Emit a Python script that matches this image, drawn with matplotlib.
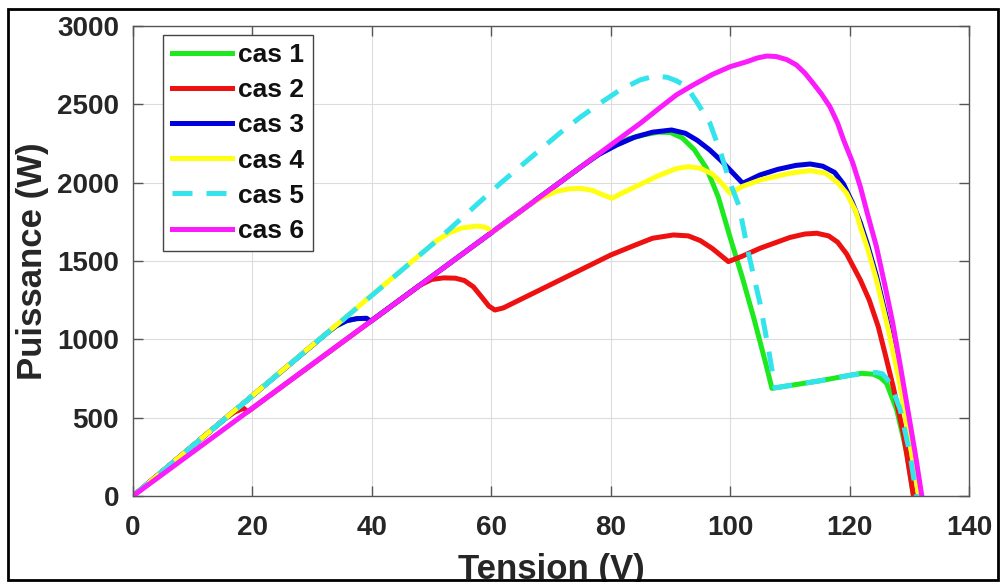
import matplotlib
matplotlib.use("Agg")
from matplotlib import pyplot as plt
from matplotlib.patches import Rectangle

plt.rcParams['font.family'] = ['Liberation Sans', 'DejaVu Sans']
plt.rcParams['font.weight'] = 'bold'

# cas 1 (vert)
v1 = [0, 32.4, 34, 35.8, 37.5, 39.1, 39.8, 60, 77, 80, 83, 85.5, 88, 90, 92, 94, 96, 98, 100, 102, 104, 106, 107,
      110, 115, 120, 122, 124, 125.2, 126.2, 127.9, 129.6, 130.7]
p1 = [0, 1037, 1085, 1119, 1132, 1134, 1115, 1680, 2156, 2230, 2280, 2305, 2322, 2320, 2285, 2210, 2095, 1910, 1650,
      1400, 1130, 840, 687, 705, 735, 770, 783, 777, 755, 719, 549, 272, 0]

# cas 2 (rouge)
v2 = [0, 15.4, 17, 18.5, 19.2, 30, 40, 48, 50, 52, 54, 55.5, 57, 58.5, 59.6, 60.6, 62, 70, 80, 84, 87, 90.5, 93, 95,
      97, 99.7, 102, 105, 110, 112.5, 114.5, 116.5, 118, 119.5, 121.8, 123.3, 124.8, 126, 127.3, 129, 130.7]
p2 = [0, 493, 535, 560, 538, 840, 1120, 1344, 1382, 1392, 1390, 1375, 1335, 1265, 1212, 1187, 1200, 1350, 1538, 1600,
      1645, 1666, 1660, 1630, 1580, 1496, 1530, 1581, 1650, 1672, 1677, 1660, 1620, 1545, 1379, 1250, 1081, 900, 698,
      400, 0]

# cas 3 (bleu)
v3 = [0, 32.4, 34, 35.8, 37.5, 39.1, 39.8, 60, 75, 78, 81, 84, 87, 90.2, 92.5, 94.5, 96.6, 98.5, 100.5, 102.1, 105,
      108, 111, 113.4, 115.5, 117.5, 119, 120.5, 121.8, 123, 124.5, 126.5, 128.5, 131.7]
p3 = [0, 1037, 1085, 1119, 1132, 1134, 1115, 1680, 2100, 2180, 2240, 2290, 2322, 2336, 2315, 2270, 2208, 2140, 2060,
      1996, 2049, 2085, 2110, 2119, 2105, 2065, 1990, 1870, 1745, 1605, 1405, 1085, 725, 0]

# cas 4 (jaune)
v4 = [0, 51, 53, 55, 57.6, 59, 60.3, 67, 69, 71, 73, 75, 77, 78.5, 80.2, 82, 85, 88, 91, 93, 95, 97, 98.5, 100, 102,
      105, 110, 113.4, 116, 118, 119.5, 121, 121.8, 123, 124.5, 126.5, 128.5, 131.6]
p4 = [0, 1634, 1680, 1710, 1723, 1715, 1687, 1876, 1915, 1945, 1960, 1964, 1950, 1925, 1900, 1935, 1990, 2045, 2090,
      2102, 2092, 2055, 2000, 1932, 1975, 2017, 2060, 2077, 2060, 2000, 1932, 1820, 1719, 1580, 1379, 1060, 700, 0]

# cas 5 (cyan, pointille)
v5 = [0, 19.6, 39.1, 51, 61.5, 71.5, 75, 78.2, 81.5, 84.9, 87.4, 89.5, 91, 92.7, 94.5, 96.6, 98.5, 100, 101.5, 103,
      105, 106.5, 107.5, 110, 115, 120, 123, 124.5, 125.5, 126.4, 127.5, 128.5, 130.1, 131.2]
p5 = [0, 627, 1251, 1634, 1995, 2317, 2420, 2506, 2590, 2655, 2681, 2672, 2650, 2613, 2510, 2381, 2180, 1998, 1850,
      1560, 1230, 920, 690, 705, 735, 770, 785, 788, 780, 740, 650, 549, 272, 0]

# cas 6 (magenta)
v6 = [0, 85, 88.3, 91, 93.8, 97, 100, 102.8, 104.5, 106.1, 107.7, 109.5, 111.1, 112.5, 113.9, 115.3, 116.7, 118, 119,
      120.5, 121.8, 123, 124.5, 126, 127.2, 128.5, 129.8, 131, 132.1]
p6 = [0, 2380, 2480, 2560, 2623, 2690, 2740, 2772, 2795, 2808, 2805, 2785, 2751, 2700, 2634, 2565, 2485, 2380, 2272,
      2130, 1974, 1800, 1591, 1330, 1110, 830, 540, 270, 0]

labels = ['cas 1', 'cas 2', 'cas 3', 'cas 4', 'cas 5', 'cas 6']
colors = ['#1ee81e', '#ee1111', '#0000dd', '#ffff14', '#33e4ec', '#fb1cfb']

fig = plt.figure(figsize=(10, 5.82), dpi=100)
ax = fig.add_axes([0.133, 0.1478, 0.836, 0.8076])

lw = 3.6
ax.plot(v1, p1, color=colors[0], lw=lw, label=labels[0])
ax.plot(v2, p2, color=colors[1], lw=lw, label=labels[1])
ax.plot(v3, p3, color=colors[2], lw=lw, label=labels[2])
ax.plot(v4, p4, color=colors[3], lw=lw, label=labels[3])
ax.plot(v5, p5, color=colors[4], lw=lw, label=labels[4], dashes=(4, 2.8))
ax.plot(v6, p6, color=colors[5], lw=lw, label=labels[5])

ax.set_xlim(0, 140)
ax.set_ylim(0, 3000)
ax.set_xticks(range(0, 141, 20))
ax.set_yticks(range(0, 3001, 500))
ax.grid(True, color='#dcdcdc', lw=0.8)
ax.set_axisbelow(True)

for s in ax.spines.values():
    s.set_color('#555555')
    s.set_linewidth(1.0)
ax.tick_params(direction='in', length=7, width=1, color='#555555', top=True, right=True,
               labelsize=20, labelcolor='#262626')
ax.tick_params(axis='x', pad=14)
ax.tick_params(axis='y', pad=10)
for t in ax.get_xticklabels() + ax.get_yticklabels():
    t.set_fontweight('bold')

ax.set_xlabel('Tension (V)', fontsize=25, fontweight='bold', color='#262626', labelpad=8)
ax.set_ylabel('Puissance (W)', fontsize=25, fontweight='bold', color='#262626', labelpad=6)

leg = ax.legend(loc='upper left', bbox_to_anchor=(0.036, 0.981), fontsize=19, handlelength=2.3,
                handletextpad=0.22, labelspacing=0.42, borderpad=0.32, borderaxespad=0,
                fancybox=False, framealpha=1)
leg.get_frame().set_edgecolor('#444444')
leg.get_frame().set_linewidth(1.0)
for t in leg.get_texts():
    t.set_fontweight('bold')
    t.set_color('#111111')

fig.patches.append(Rectangle((0.008, 0.0034), 0.99, 0.981, transform=fig.transFigure,
                             fill=False, edgecolor='black', lw=2))

fig.savefig('out.png', dpi=100)
